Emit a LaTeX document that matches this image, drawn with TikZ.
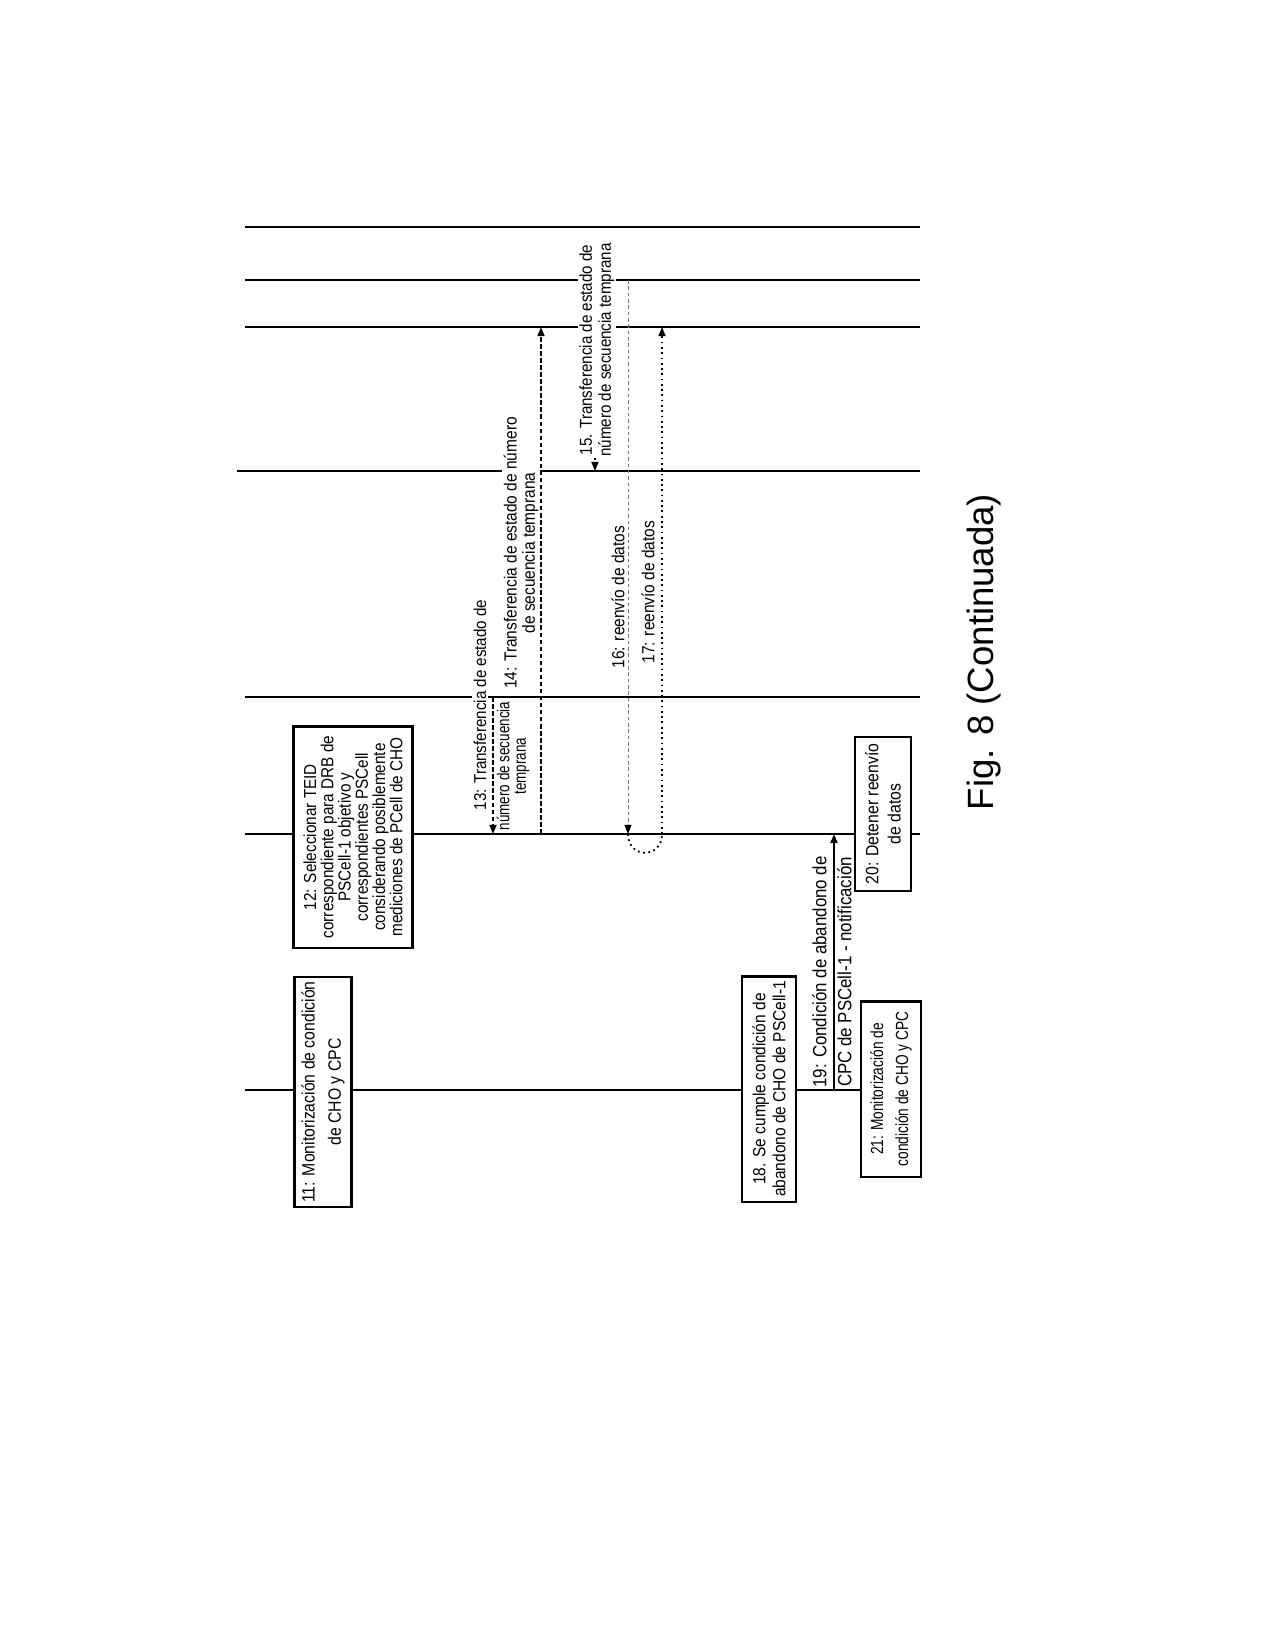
\documentclass[tikz,border=0pt]{standalone}
\usepackage{fontspec}
\setmainfont{Liberation Sans}[FakeStretch=0.88]
\newfontfamily\narrowfont{Liberation Sans}[FakeStretch=0.78]
\newfontfamily\figfont{Liberation Sans}
\newcommand\tightskip{\lineskiplimit-10pt\relax}
\usetikzlibrary{arrows.meta}

\begin{document}
\begin{tikzpicture}[x=0.01cm,y=-0.01cm,
        lifeline/.style={line width=0.6pt},
        stepbox/.style={draw,line width=0.6pt,fill=white,rotate=90,align=center,inner sep=0.5pt},
        lbl/.style={rotate=90,align=center,inner sep=0.5pt},
        tip/.style={-{Triangle[length=2.6pt,width=2pt]}},
        msg/.style={tip,line width=0.5pt,dash pattern=on 1.3pt off 0.7pt},
        fwd/.style={-{Triangle[length=2.6pt,width=2pt,black]},line width=0.25pt,black!55,dash pattern=on 1pt off 0.8pt},
        fwdb/.style={line width=0.5pt,densely dotted}]
    \useasboundingbox (0,0) rectangle (1275,1650);
    %% Lifelines
    \foreach \n/\xs/\y in {1/245/227,2/245/280,3/245/327,4/237/471,5/245/697,7/245/1090}
        \draw[lifeline] (\xs,\y) coordinate (L\n) -- (920,\y);
    \draw[lifeline,line width=0.8pt] (245,834) coordinate (L6) -- (920,834);
    %% x of the messages
    \coordinate (a13) at (493,0);
    \coordinate (a14) at (541,0);
    \coordinate (a15) at (595,0);
    \coordinate (a16) at (628,0);
    \coordinate (a17) at (662,0);
    \coordinate (a19) at (834,0);
    \draw[msg] (a15 |- L2) -- (a15 |- L4);
    %% Labels
    \node[lbl,fill=white,font=\fontsize{4.9}{5.4}\selectfont] (t13) at (480,705) {13: Transferencia de estado de};
    \node[lbl,font=\narrowfont\fontsize{4.9}{4.7}\selectfont\tightskip] (t13b) at (513,766) {número de secuencia\\temprana};
    \node[lbl,fill=white,font=\fontsize{5}{5.2}\selectfont\tightskip] (t14) at (521,553) {14: Transferencia de estado de número\\de secuencia temprana};
    \node[lbl,fill=white,font=\fontsize{4.9}{5.4}\selectfont\tightskip] (t15) at (597,350) {15. Transferencia de estado de\\número de secuencia temprana};
    \node[lbl,font=\fontsize{5}{5.4}\selectfont] (t16) at (618,597) {16: reenvío de datos};
    \node[lbl,font=\fontsize{5}{5.4}\selectfont] (t17) at (648,592) {17: reenvío de datos};
    \node[lbl,font=\fontsize{5.45}{7.1}\selectfont] (t19) at (832,972) {19: Condición de abandono de\\CPC de PSCell-1 - notificación};
    %% Steps
    \node[stepbox,minimum width=2.3cm,minimum height=0.57cm,font=\fontsize{5.1}{7.5}\selectfont] (s11) at (323,1092) {11: Monitorización de condición\\de CHO y CPC};
    \node[stepbox,minimum width=2.21cm,minimum height=1.19cm,font=\fontsize{4.95}{4.9}\selectfont\tightskip] (s12) at (353,837) {12: Seleccionar TEID\\correspondiente para DRB de\\PSCell-1 objetivo y\\correspondientes PSCell\\considerando posiblemente\\mediciones de PCell de CHO};
    \node[stepbox,minimum width=2.25cm,minimum height=0.54cm,font=\fontsize{5}{5.7}\selectfont] (s18) at (769,1089) {18. Se cumple condición de\\abandono de CHO de PSCell-1};
    \node[stepbox,minimum width=1.54cm,minimum height=0.56cm,font=\fontsize{5.1}{6.3}\selectfont] (s20) at (883,814) {20: Detener reenvío\\de datos};
    \node[stepbox,minimum width=1.75cm,minimum height=0.6cm,font=\narrowfont\fontsize{5}{7.1}\selectfont] (s21) at (891,1089) {21: Monitorización de\\condición de CHO y CPC};
    %% Messages
    \draw[msg] (a13 |- L5) -- (a13 |- L6);
    \draw[msg] (a14 |- L6) -- (a14 |- L3);
    \draw[fwd] (a16 |- L2) -- (a16 |- L6);
    \draw[fwdb] (a16 |- L6) .. controls +(0,25) and +(0,25) .. (a17 |- L6);
    \draw[fwdb,tip] (a17 |- L6) -- (a17 |- L3);
    \draw[tip,line width=0.6pt] (a19 |- L7) -- (a19 |- L6);
    \node[rotate=90,font=\figfont\fontsize{10.4}{12}\selectfont] (fig) at (984,652) {Fig. 8 (Continuada)};
\end{tikzpicture}
\end{document}
